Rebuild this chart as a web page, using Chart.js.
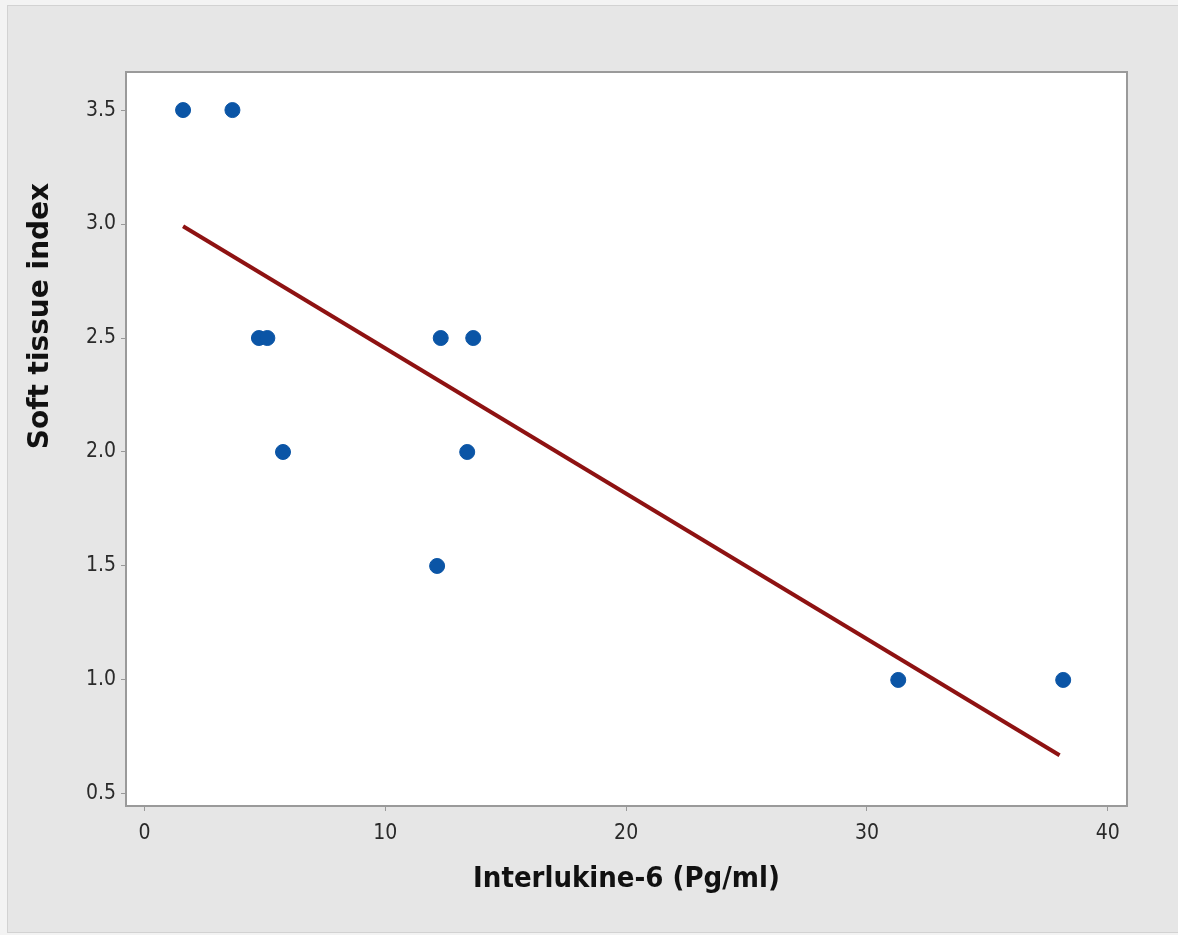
<!DOCTYPE html>
<html>
<head>
<meta charset="utf-8">
<script src="https://cdn.jsdelivr.net/npm/chart.js@4/dist/chart.umd.min.js"></script>
<style>
  html, body { margin: 0; padding: 0; background: #ececec; }
  #wrap { width: 1178px; height: 935px; }
</style>
</head>
<body>
<div id="wrap"><canvas id="scatterChart" width="1178" height="935"></canvas></div>
<script>
  'use strict';
  // IL-6 vs soft tissue index
  var il6 = [1.6, 3.65, 4.75, 5.1, 5.75, 12.15, 12.3, 13.4, 13.65, 31.3, 38.15];
  var softTissue = [3.5, 3.5, 2.5, 2.5, 2.0, 1.5, 2.5, 2.0, 2.5, 1.0, 1.0];
  // fitted regression line end points
  var fitX = [1.6, 38.0];
  var fitY = [2.99, 0.67];

  var xTicks = [0, 10, 20, 30, 40];
  var yTicks = [0.5, 1.0, 1.5, 2.0, 2.5, 3.0, 3.5];
  var yTitle = 'Soft tissue index';

  var pointData = il6.map(function(v, i) { return { x: v, y: softTissue[i] }; });
  var lineData = fitX.map(function(v, i) { return { x: v, y: fitY[i] }; });

  var frame = {
    id: 'frame',
    beforeDraw: function(chart) {
      var ctx = chart.ctx, a = chart.chartArea;
      ctx.save();
      ctx.fillStyle = '#f3f3f3';
      ctx.fillRect(0, 0, chart.width, chart.height);
      ctx.fillStyle = '#e6e6e6';
      ctx.fillRect(7, 5, chart.width - 7, 928);
      ctx.strokeStyle = '#d2d2d2';
      ctx.lineWidth = 1;
      ctx.strokeRect(7.5, 5.5, chart.width, 927);
      ctx.fillStyle = '#ffffff';
      ctx.fillRect(a.left, a.top, a.right - a.left, a.bottom - a.top);
      ctx.restore();
    },
    afterDraw: function(chart) {
      var ctx = chart.ctx, a = chart.chartArea;
      ctx.save();
      ctx.strokeStyle = '#9a9a9a';
      ctx.lineWidth = 2;
      ctx.strokeRect(a.left, a.top, a.right - a.left, a.bottom - a.top);
      // y axis title sits above the middle in the original, so draw it here
      ctx.translate(41, 316);
      ctx.rotate(-Math.PI / 2);
      ctx.fillStyle = '#111111';
      ctx.font = 'bold 28px "DejaVu Sans"';
      ctx.textAlign = 'center';
      ctx.textBaseline = 'middle';
      ctx.fillText(yTitle, 0, 0);
      ctx.restore();
    }
  };

  var ctx = document.getElementById('scatterChart').getContext('2d');
  var chart = new Chart(ctx, {
    type: 'scatter',
    data: {
      datasets: [{
        label: 'Observed',
        data: pointData,
        backgroundColor: '#0b55a6',
        borderColor: '#0b55a6',
        pointRadius: 7.5,
        pointHoverRadius: 7.5,
        order: 1
      }, {
        label: 'Fit',
        type: 'line',
        data: lineData,
        borderColor: '#8e1212',
        borderWidth: 4,
        pointRadius: 0,
        fill: false,
        order: 2
      }]
    },
    options: {
      responsive: false,
      animation: false,
      layout: { padding: { left: 0, top: 72, right: 51, bottom: 0 } },
      plugins: {
        legend: { display: false },
        tooltip: { enabled: false }
      },
      scales: {
        x: {
          type: 'linear',
          min: -0.77,
          max: 40.8,
          afterFit: function(scale) { scale.height = 129; },
          afterBuildTicks: function(scale) {
            scale.ticks = xTicks.map(function(v) { return { value: v }; });
          },
          ticks: {
            color: '#2a2a2a',
            padding: 10,
            font: { family: 'DejaVu Sans Condensed', size: 21 },
            callback: function(v) { return v; }
          },
          grid: { drawOnChartArea: false, drawTicks: true, tickLength: 5, color: '#999999' },
          border: { display: false },
          title: {
            display: true,
            text: 'Interlukine-6 (Pg/ml)',
            color: '#111111',
            font: { family: 'DejaVu Sans Condensed', size: 29, weight: 'bold' },
            padding: { top: 0, bottom: 38 }
          }
        },
        y: {
          type: 'linear',
          min: 0.447,
          max: 3.667,
          afterFit: function(scale) { scale.width = 126; },
          afterBuildTicks: function(scale) {
            scale.ticks = yTicks.map(function(v) { return { value: v }; });
          },
          ticks: {
            color: '#2a2a2a',
            padding: 5,
            font: { family: 'DejaVu Sans Condensed', size: 21 },
            callback: function(v) { return v.toFixed(1); }
          },
          grid: { drawOnChartArea: false, drawTicks: true, tickLength: 5, color: '#999999' },
          border: { display: false }
        }
      }
    },
    plugins: [frame]
  });
</script>
</body>
</html>
